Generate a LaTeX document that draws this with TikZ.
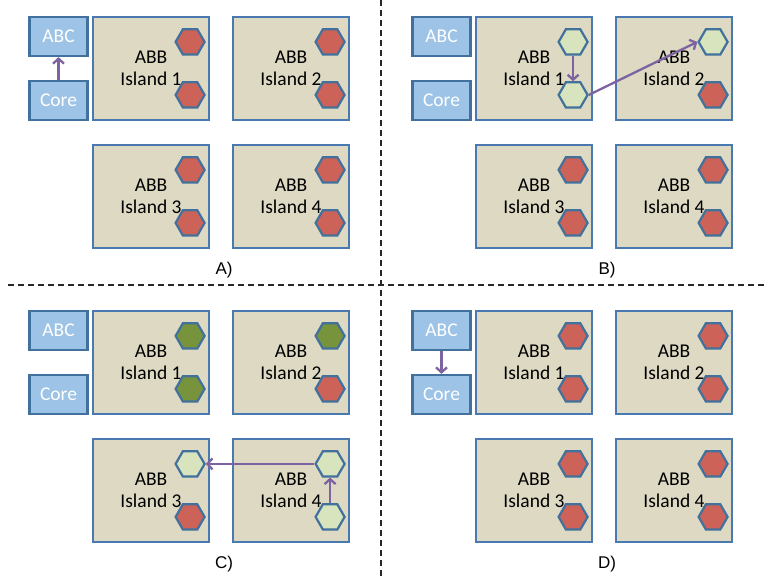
\documentclass[tikz,border=0pt]{standalone}
\usepackage{fontspec}
\setmainfont{Carlito}
\newfontfamily\labelfont{Liberation Sans}
\usetikzlibrary{shapes.geometric,arrows.meta}

\definecolor{cpufill}{HTML}{9DC3E6}
\definecolor{cpuedge}{HTML}{41719C}
\definecolor{islefill}{HTML}{DDD9C3}
\definecolor{isleedge}{HTML}{4A78B0}
\definecolor{hexred}{HTML}{CD6258}
\definecolor{hexlight}{HTML}{D7E4BD}
\definecolor{hexdark}{HTML}{77933C}
\definecolor{hexedge}{HTML}{41719C}
\definecolor{flow}{HTML}{7E63A1}

\tikzset{
  cpu/.style={draw=cpuedge, fill=cpufill, line width=2.2pt, minimum width=58pt,
    minimum height=39pt, inner sep=0pt, text=white,
    font=\fontsize{19.5}{22.5}\selectfont},
  island/.style={draw=isleedge, fill=islefill, line width=2.2pt, minimum width=116pt,
    minimum height=103pt, inner sep=0pt, align=center,
    font=\fontsize{19.5}{22.5}\selectfont},
  hex/.style={regular polygon, regular polygon sides=6, draw=hexedge, line width=2.2pt,
    minimum size=29pt, inner sep=0pt},
  red/.style={hex, fill=hexred},
  light/.style={hex, fill=hexlight},
  dark/.style={hex, fill=hexdark},
  flowarrow/.style={draw=flow, line width=2.3pt, -{Straight Barb[length=5pt,width=11pt]}},
  divider/.style={draw=black!85, line width=1.4pt, dash pattern=on 6pt off 4pt},
  panellabel/.style={font=\labelfont\fontsize{17}{19}\selectfont},
}

% boxes of one panel; #1 is the name prefix
\newcommand{\boxset}[1]{%
  \node[cpu] (#1abc) at (58.5,-36.5) {ABC};
  \node[cpu] (#1core) at (58.5,-100.5) {Core};
  \node[island] (#1i1) at (151,-68.5) {ABB\\Island 1};
  \node[island] (#1i2) at (291,-68.5) {ABB\\Island 2};
  \node[island] (#1i3) at (151,-196.5) {ABB\\Island 3};
  \node[island] (#1i4) at (291,-196.5) {ABB\\Island 4};
}
% two hexagons in one island: prefix, island, top style, bottom style
\newcommand{\hexpair}[4]{%
  \node[#3] (#1#2t) at ([shift={(-20pt,-26pt)}]#1#2.north east) {};
  \node[#4] (#1#2b) at ([shift={(-20pt,-79pt)}]#1#2.north east) {};
}

\begin{document}
\begin{tikzpicture}[x=1pt, y=1pt]
\useasboundingbox (0,0) rectangle (764,-578);

% dividers
\coordinate (vtop) at (381,0);
\coordinate (vbot) at (381,-578);
\coordinate (hleft) at (8,-285);
\coordinate (hright) at (764,-285);
\draw[divider] (vtop) -- (vbot);
\draw[divider] (hleft) -- (hright);

% panel A
\begin{scope}
  \boxset{a}
  \hexpair{a}{i1}{red}{red}
  \hexpair{a}{i2}{red}{red}
  \hexpair{a}{i3}{red}{red}
  \hexpair{a}{i4}{red}{red}
  \draw[flowarrow] (acore.north) -- (aabc.south);
  \node[panellabel] (la) at (224,-270) {A)};
\end{scope}

% panel B
\begin{scope}[shift={(383,0)}]
  \boxset{b}
  \hexpair{b}{i1}{light}{light}
  \hexpair{b}{i2}{light}{red}
  \hexpair{b}{i3}{red}{red}
  \hexpair{b}{i4}{red}{red}
  \draw[flowarrow] (bi1t.south) -- (bi1b.north);
  \draw[flowarrow] (bi1b.east) -- (bi2t.west);
  \node[panellabel] (lb) at (224,-270) {B)};
\end{scope}

% panel C
\begin{scope}[shift={(0,-294)}]
  \boxset{c}
  \hexpair{c}{i1}{dark}{dark}
  \hexpair{c}{i2}{dark}{red}
  \hexpair{c}{i3}{light}{red}
  \hexpair{c}{i4}{light}{light}
  \draw[flowarrow] (ci4b.north) -- (ci4t.south);
  \draw[flowarrow] (ci4t.west) -- (ci3t.east);
  \node[panellabel] (lc) at (224,-270) {C)};
\end{scope}

% panel D
\begin{scope}[shift={(383,-294)}]
  \boxset{d}
  \hexpair{d}{i1}{red}{red}
  \hexpair{d}{i2}{red}{red}
  \hexpair{d}{i3}{red}{red}
  \hexpair{d}{i4}{red}{red}
  \draw[flowarrow] (dabc.south) -- (dcore.north);
  \node[panellabel] (ld) at (224,-270) {D)};
\end{scope}
\end{tikzpicture}
\end{document}
